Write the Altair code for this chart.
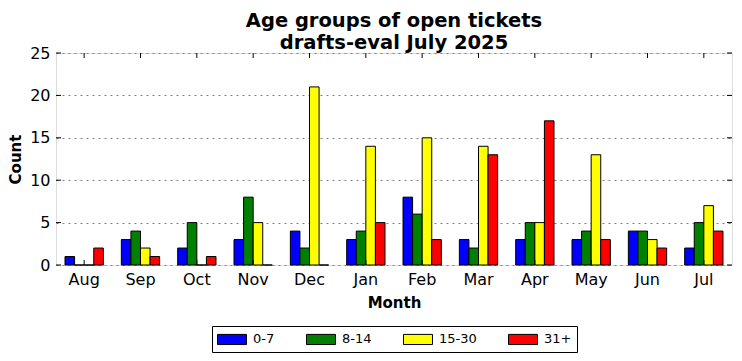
import altair as alt
import pandas as pd

months = ["Aug", "Sep", "Oct", "Nov", "Dec", "Jan", "Feb", "Mar", "Apr", "May", "Jun", "Jul"]
groups = ["0-7", "8-14", "15-30", "31+"]
colors = ["#0000ff", "#008000", "#ffff00", "#ff0000"]
g0_7 = [1, 3, 2, 3, 4, 3, 8, 3, 3, 3, 4, 2]
g8_14 = [0, 4, 5, 8, 2, 4, 6, 2, 5, 4, 4, 5]
g15_30 = [0, 2, 0, 5, 21, 14, 15, 14, 5, 13, 3, 7]
g31 = [2, 1, 1, 0, 0, 5, 3, 13, 17, 3, 2, 4]
y_ticks = [0, 5, 10, 15, 20, 25]

series = [g0_7, g8_14, g15_30, g31]
rows = []
for g, vals in zip(groups, series):
    for m, v in zip(months, vals):
        rows.append({"Month": m, "Group": g, "Count": v})
df = pd.DataFrame(rows)
tick_df = pd.DataFrame({"v": y_ticks})
month_df = pd.DataFrame({"Month": months})

W, H = 676, 212
FONT = "DejaVu Sans"

xscale = alt.Scale(domain=months, paddingInner=0.32, paddingOuter=0.16)
yscale = alt.Scale(domain=[0, 25], nice=False)

bars = alt.Chart(df).mark_bar(stroke="black", strokeWidth=1).encode(
    x=alt.X("Month:N", sort=months, scale=xscale,
            axis=alt.Axis(title="Month", labelAngle=0, ticks=False, labelPadding=6,
                          labelFontSize=16, titleFontSize=15, titleFontWeight="bold",
                          titlePadding=8, domain=False, grid=False)),
    xOffset=alt.XOffset("Group:N", sort=groups, scale=alt.Scale(domain=groups, paddingInner=0, paddingOuter=0)),
    y=alt.Y("Count:Q", scale=yscale,
            axis=alt.Axis(title="Count", values=y_ticks, ticks=False, labelPadding=6,
                          labelFontSize=16, titleFontSize=15, titleFontWeight="bold",
                          titlePadding=6, domain=False, grid=True, gridColor="#808080",
                          gridDash=[2, 4], gridWidth=1)),
    color=alt.Color("Group:N", sort=groups, scale=alt.Scale(domain=groups, range=colors),
                    legend=alt.Legend(title=None, orient="none", legendX=156, legendY=273,
                                      direction="horizontal", columns=4,
                                      symbolType="M-2,-0.7L2,-0.7L2,0.7L-2,0.7Z",
                                      symbolSize=210, symbolOffset=7,
                                      symbolStrokeColor="black",
                                      symbolStrokeWidth=1, labelFontSize=13,
                                      columnPadding=29, labelOffset=13,
                                      fillColor="white", strokeColor="black",
                                      padding=5, cornerRadius=0)),
)

top_ticks = alt.Chart(month_df).mark_rule(color="black").encode(
    x=alt.X("Month:N", sort=months, scale=xscale), y=alt.value(0), y2=alt.value(5))
bot_ticks = alt.Chart(month_df).mark_rule(color="black").encode(
    x=alt.X("Month:N", sort=months, scale=xscale), y=alt.value(H), y2=alt.value(H - 5))
left_ticks = alt.Chart(tick_df).mark_rule(color="black").encode(
    y=alt.Y("v:Q", scale=yscale), x=alt.value(0), x2=alt.value(5))
right_ticks = alt.Chart(tick_df).mark_rule(color="black").encode(
    y=alt.Y("v:Q", scale=yscale), x=alt.value(W), x2=alt.value(W - 5))

chart = alt.layer(bars, top_ticks, bot_ticks, left_ticks, right_ticks).properties(
    width=W, height=H,
    title=alt.TitleParams(["Age groups of open tickets", "drafts-eval July 2025"],
                          fontSize=19.5, fontWeight="bold", font=FONT, anchor="middle",
                          offset=-8, lineHeight=22, color="black"),
    autosize=alt.AutoSizeParams(type="none"),
    padding={"left": 48, "top": 45, "right": 2, "bottom": 90},
).configure_view(fill="#bfbfbf", stroke="black", strokeWidth=1).configure(
    font=FONT
).configure_axis(labelColor="black", titleColor="black", labelFont=FONT, titleFont=FONT
).configure_legend(labelFont=FONT, labelColor="black")

chart.save("out.html", embed_options={"renderer": "svg", "actions": False})
